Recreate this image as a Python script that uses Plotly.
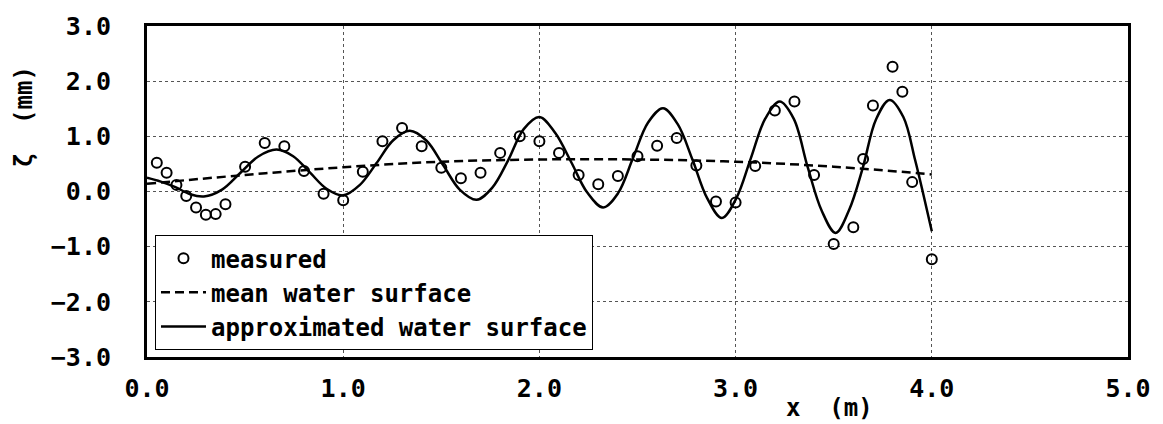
import plotly.graph_objects as go

# Measured surface elevation (x in m, zeta in mm)
measured_x = [0.05, 0.10, 0.15, 0.20, 0.25, 0.30, 0.35, 0.40, 0.50, 0.60, 0.70, 0.80, 0.90, 1.00,
              1.10, 1.20, 1.30, 1.40, 1.50, 1.60, 1.70, 1.80, 1.90, 2.00,
              2.10, 2.20, 2.30, 2.40, 2.50, 2.60, 2.70, 2.80, 2.90, 3.00,
              3.10, 3.20, 3.30, 3.40, 3.50, 3.60, 3.65, 3.70, 3.80, 3.85, 3.90, 4.00]
measured_y = [0.52, 0.34, 0.12, -0.08, -0.29, -0.42, -0.41, -0.23, 0.45, 0.88, 0.82, 0.37, -0.04, -0.16,
              0.36, 0.91, 1.15, 0.82, 0.43, 0.24, 0.34, 0.70, 1.00, 0.91,
              0.70, 0.30, 0.13, 0.28, 0.64, 0.83, 0.97, 0.47, -0.18, -0.20,
              0.46, 1.47, 1.63, 0.30, -0.95, -0.65, 0.59, 1.56, 2.26, 1.81, 0.17, -1.23]

# Mean water surface
mean_x = [0.0, 0.5, 1.0, 1.5, 2.0, 2.5, 3.0, 3.5, 4.0]
mean_y = [0.14, 0.30, 0.44, 0.54, 0.58, 0.58, 0.54, 0.45, 0.31]

# Approximated water surface
approx_x = [0.00, 0.07, 0.145, 0.22,
            0.29, 0.3825, 0.475, 0.5675,
            0.66, 0.745, 0.83, 0.915,
            1.00, 1.085, 1.17, 1.255,
            1.34, 1.425, 1.51, 1.595,
            1.68, 1.76, 1.84, 1.92,
            2.00, 2.081, 2.1625, 2.244,
            2.325, 2.401, 2.4775, 2.554,
            2.63, 2.705, 2.78, 2.855,
            2.93, 3.004, 3.0775, 3.151,
            3.225, 3.296, 3.3675, 3.439,
            3.51, 3.579, 3.6475, 3.716,
            3.785, 3.855, 3.915, 3.96, 4.00]
approx_y = [0.25, 0.18, 0.08, -0.05,
            -0.09, 0.035, 0.335, 0.635,
            0.76, 0.64, 0.345, 0.05,
            -0.07, 0.12, 0.515, 0.93,
            1.10, 0.92, 0.475, 0.03,
            -0.15, 0.07, 0.56, 1.13,
            1.35, 1.06, 0.53, -0.02,
            -0.29, -0.03, 0.61, 1.25,
            1.51, 1.22, 0.58, -0.12,
            -0.48, -0.12, 0.60, 1.32,
            1.63, 1.32, 0.44, -0.35,
            -0.75, -0.33, 0.42, 1.31,
            1.66, 1.35, 0.57, -0.10, -0.72]

x_ticks = [0, 1, 2, 3, 4, 5]
x_ticktext = ["0.0", "1.0", "2.0", "3.0", "4.0", "5.0"]
y_ticks = [-3, -2, -1, 0, 1, 2, 3]
y_ticktext = ["\u22123.0", "\u22122.0", "\u22121.0", "0.0", "1.0", "2.0", "3.0"]

FONT = "DejaVu Sans Mono"

fig = go.Figure()
fig.add_trace(go.Scatter(
    x=measured_x, y=measured_y, mode="markers", name="measured",
    marker=dict(symbol="circle-open", size=10, color="black", line=dict(width=2, color="black")),
))
fig.add_trace(go.Scatter(
    x=mean_x, y=mean_y, mode="lines", name="mean water surface",
    line=dict(color="black", width=2.5, dash="9px,5px", shape="spline", smoothing=1.0),
))
fig.add_trace(go.Scatter(
    x=approx_x, y=approx_y, mode="lines", name="approximated water surface",
    line=dict(color="black", width=2.5, shape="spline", smoothing=1.0),
))

axis_common = dict(
    showline=True, linecolor="black", linewidth=3, mirror=True,
    showgrid=True, gridcolor="#555555", gridwidth=1, griddash="dot",
    zeroline=False, ticks="",
    tickfont=dict(family=FONT, size=25, color="black", weight="bold"),
)

fig.update_xaxes(range=[0, 5], tickvals=x_ticks, ticktext=x_ticktext,
                 ticklabelstandoff=7, **axis_common)
fig.update_yaxes(range=[-3, 3], tickvals=y_ticks, ticktext=y_ticktext,
                 ticklabelstandoff=28, **axis_common)

fig.add_annotation(text="x  (m)", xref="paper", yref="paper", x=(830 - 147) / 982, y=-(408 - 357) / 334,
                   showarrow=False, xanchor="center", yanchor="middle",
                   font=dict(family=FONT, size=24, color="black", weight="bold"))
fig.add_annotation(text="\u03b6  (mm)", xref="paper", yref="paper", x=-(147 - 24) / 982, y=(357 - 115) / 334,
                   showarrow=False, xanchor="center", yanchor="middle", textangle=-90,
                   font=dict(family=FONT, size=24, color="black", weight="bold"))

fig.update_layout(
    width=1163, height=424,
    margin=dict(l=147, r=34, t=23, b=67),
    plot_bgcolor="white", paper_bgcolor="white",
    showlegend=True,
    legend=dict(
        x=8 / 982, y=7 / 334, xanchor="left", yanchor="bottom",
        bgcolor="white", bordercolor="black", borderwidth=1,
        font=dict(family=FONT, size=24, color="black", weight="bold"),
        itemwidth=45, tracegroupgap=0,
    ),
)

fig.write_html("out.html")
